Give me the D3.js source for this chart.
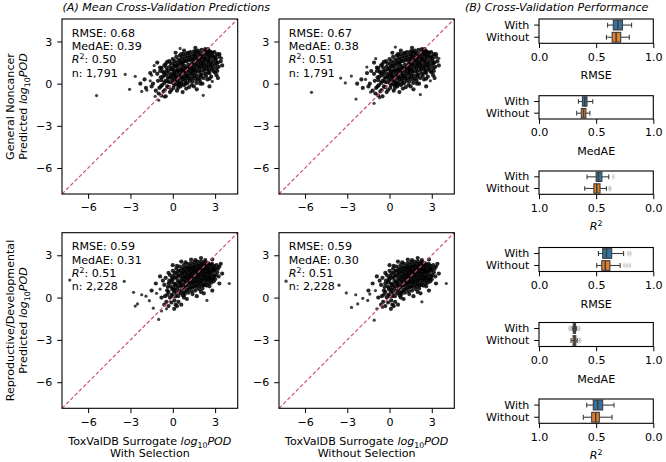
<!DOCTYPE html>
<html><head><meta charset="utf-8">
<script src="https://cdn.jsdelivr.net/npm/d3@7"></script>
<style>
body{margin:0;background:#fff}
svg{display:block}
text{font-family:"DejaVu Sans",sans-serif;font-size:11.1px;fill:#000}
</style>
</head><body>
<svg id="c" width="666" height="462"></svg>
<script>
// ---------------- DATA ----------------
const scatterTicks = [-6, -3, 0, 3];
const rowLabels = ["General Noncancer", "Reproductive/Developmental"];
const colLabels = ["With Selection", "Without Selection"];
const groups = ["With", "Without"];
const metrics = ["RMSE", "MedAE", "R2"];

// dense core cloud, general noncancer
const coreGeneral = [
[-1.05,0.2],[-0.95,-0.3],[-1.1,0.7],[-0.9,0.9],[-1.0,-0.7],[-0.85,0.45],
[-0.8,1.1],[-0.7,0.5],[-0.75,-0.1],[-0.65,-0.55],[-0.8,0.25],[-0.7,0.85],[-0.6,1.3],
[-0.5,1.4],[-0.45,0.9],[-0.55,0.6],[-0.5,0.2],[-0.4,-0.2],[-0.55,-0.45],[-0.45,1.15],[-0.35,0.4],
[-0.25,1.6],[-0.2,1.2],[-0.3,0.95],[-0.15,0.7],[-0.25,0.45],[-0.2,0.1],[-0.3,-0.25],[-0.1,-0.45],[-0.15,1.45],[-0.05,0.3],
[0.0,1.75],[0.05,1.4],[-0.02,1.1],[0.08,0.85],[0.0,0.6],[0.1,0.35],[0.02,0.05],[0.05,-0.3],[0.12,1.6],[0.15,0.95],[0.1,-0.1],[0.18,0.55],
[0.25,1.9],[0.3,1.5],[0.22,1.25],[0.35,1.05],[0.28,0.8],[0.2,0.5],[0.32,0.25],[0.27,-0.05],[0.38,-0.3],[0.4,1.7],[0.45,0.65],[0.42,0.1],
[0.5,2.0],[0.55,1.65],[0.48,1.4],[0.6,1.15],[0.52,0.9],[0.58,0.6],[0.5,0.35],[0.62,0.1],[0.55,-0.2],[0.65,1.85],[0.68,0.8],[0.7,1.35],[0.45,0.0],
[0.75,2.1],[0.8,1.75],[0.72,1.5],[0.85,1.25],[0.78,1.0],[0.82,0.7],[0.75,0.45],[0.88,0.2],[0.8,-0.1],[0.9,1.95],[0.92,0.95],[0.95,0.55],[0.7,0.3],
[1.0,2.15],[1.05,1.85],[0.98,1.6],[1.1,1.35],[1.02,1.1],[1.08,0.85],[1.0,0.6],[1.12,0.35],[1.05,0.05],[1.15,-0.25],[1.18,2.0],[1.2,1.2],[1.22,0.7],
[1.25,2.25],[1.3,1.9],[1.28,1.65],[1.35,1.4],[1.27,1.15],[1.32,0.9],[1.38,0.65],[1.3,0.4],[1.4,0.15],[1.45,2.1],[1.48,1.5],[1.42,1.0],[1.35,-0.1],
[1.5,2.3],[1.55,2.0],[1.52,1.75],[1.6,1.55],[1.58,1.3],[1.5,1.05],[1.62,0.8],[1.55,0.55],[1.65,0.3],[1.7,2.15],[1.72,1.15],[1.68,0.05],[1.75,1.65],
[1.8,2.35],[1.85,2.05],[1.78,1.85],[1.88,1.6],[1.82,1.35],[1.9,1.1],[1.85,0.85],[1.95,0.6],[1.8,0.35],[1.98,1.9],[2.0,1.45],[1.92,0.2],
[2.05,2.4],[2.1,2.1],[2.02,1.9],[2.15,1.65],[2.08,1.4],[2.12,1.15],[2.2,0.9],[2.05,0.65],[2.18,0.4],[2.25,2.2],[2.28,1.75],[2.22,1.3],[2.1,0.0],
[2.35,2.35],[2.4,2.05],[2.32,1.8],[2.45,1.55],[2.38,1.3],[2.42,1.05],[2.5,0.8],[2.36,0.55],[2.48,2.25],[2.55,1.9],[2.52,1.2],[2.45,0.3],
[2.6,2.3],[2.65,2.0],[2.62,1.75],[2.7,1.5],[2.68,1.25],[2.75,1.0],[2.6,0.75],[2.72,0.5],[2.8,2.2],[2.85,1.85],[2.78,1.35],[2.9,0.9],
[2.95,2.25],[3.0,1.95],[3.05,1.65],[3.0,1.35],[3.1,1.1],[2.98,0.8],[3.15,2.1],[3.2,1.5],[3.1,0.6],[3.3,1.9],[3.25,1.2],
[-0.6,0.05],[-0.85,-0.2],[-0.38,0.7],[-0.62,0.75],[-0.1,1.0],[-0.12,0.5],[-0.35,0.15],[0.12,1.25],[0.1,0.7],[0.15,0.15],
[0.35,1.3],[0.38,0.9],[0.35,0.45],[0.4,-0.1],[0.6,1.5],[0.62,1.0],[0.65,0.45],[0.6,-0.05],[0.85,1.6],[0.9,1.1],
[0.85,0.85],[0.9,0.35],[0.9,0.0],[1.15,1.7],[1.15,1.0],[1.12,0.5],[1.2,0.2],[1.4,1.75],[1.4,1.25],[1.42,0.8],
[1.45,0.4],[1.6,1.9],[1.65,1.4],[1.65,0.95],[1.7,0.55],[1.9,2.2],[1.95,1.7],[1.95,1.25],[1.98,0.9],[1.98,0.45],
[2.2,1.95],[2.22,1.5],[2.25,1.05],[2.3,0.7],[2.5,2.1],[2.5,1.65],[2.55,1.4],[2.58,0.95],[2.8,2.0],[2.85,1.6],
[2.85,1.15],[3.05,1.8],[3.1,1.45],[3.15,0.9],[2.7,2.25],[2.3,2.45],[1.65,2.3],[1.1,2.2],[0.6,2.1],[-0.4,1.55],
[-0.9,1.15],[3.4,1.6],[2.6,0.35],[1.95,0.0],[1.5,-0.2],[0.95,-0.35],[0.3,-0.5],[-0.2,-0.6],[-0.8,-0.85],
[-2.0,0.3],[-1.5,-0.2],[-1.3,0.9],[-1.6,0.75],[-1.2,-0.5],[0.2,2.2],[0.8,2.35],[1.6,2.55],[2.5,2.45],[3.3,2.1],
[3.5,1.3],[3.2,0.4],[2.6,-0.2],[1.7,-0.4],[0.7,-0.6],[-0.5,-0.9],[-1.4,0.0],[-1.9,-0.3],[-2.3,0.0],[-1.1,1.5]
];
// sparse points, general noncancer
const outGeneralWith = [
[-5.4,-0.85],[-3.37,0.66],[-2.66,0.52],[-3.06,-0.4],[-1.32,1.29],[-1.84,-0.47],[-2.2,-0.55],
[2.16,-0.83],[2.8,0.16],[0.52,2.51],[3.46,1.81],[-1.5,0.6],[-1.0,-1.18],[-1.6,0.2],[-1.25,-0.9],[-0.6,-0.95]
];
const outGeneralWithout = [
[-5.54,-0.62],[-3.47,0.4],[-3.14,0.05],[-2.71,0.54],[-2.38,-1.1],[-1.61,1.18],[-0.98,1.78],
[0.41,2.6],[2.19,-0.78],[2.9,0.2],[3.5,1.8],[-1.1,-1.4],[-1.7,0.3],[-1.35,-0.6],[-0.7,-1.0]
];

// dense core cloud, reproductive/developmental
const coreRepro = [
[-0.5,1.4],[-0.6,0.9],[-0.4,0.5],[-0.55,0.1],[-0.45,-0.3],[-0.7,1.2],[-0.3,1.0],
[-0.2,1.6],[-0.25,1.2],[-0.15,0.8],[-0.3,0.4],[-0.2,0.0],[-0.1,-0.35],[-0.05,1.4],
[0.0,1.9],[0.05,1.55],[-0.02,1.25],[0.1,1.0],[0.02,0.7],[0.08,0.4],[0.0,0.1],[0.12,-0.2],[0.15,1.75],[0.18,0.85],[0.2,-0.5],
[0.25,2.05],[0.3,1.75],[0.28,1.45],[0.35,1.2],[0.22,0.95],[0.32,0.65],[0.27,0.35],[0.38,0.1],[0.42,1.9],[0.45,1.05],[0.4,-0.3],
[0.5,2.2],[0.55,1.9],[0.52,1.6],[0.6,1.35],[0.5,1.1],[0.58,0.85],[0.62,0.55],[0.55,0.3],[0.68,2.05],[0.7,1.5],[0.65,0.95],[0.72,0.15],
[0.78,2.3],[0.8,2.0],[0.75,1.75],[0.85,1.5],[0.82,1.25],[0.88,1.0],[0.8,0.75],[0.9,0.45],[0.95,2.15],[0.98,1.65],[0.92,1.15],[0.85,0.25],
[1.02,2.4],[1.05,2.1],[1.0,1.85],[1.1,1.6],[1.08,1.35],[1.12,1.1],[1.05,0.85],[1.15,0.6],[1.2,2.25],[1.22,1.75],[1.18,1.25],[1.1,0.35],
[1.28,2.45],[1.3,2.15],[1.25,1.9],[1.35,1.7],[1.32,1.45],[1.38,1.2],[1.3,0.95],[1.4,0.7],[1.45,2.3],[1.48,1.85],[1.42,1.35],[1.35,0.45],
[1.52,2.5],[1.55,2.2],[1.5,1.95],[1.6,1.75],[1.58,1.5],[1.62,1.25],[1.55,1.0],[1.65,0.75],[1.7,2.35],[1.72,1.9],[1.68,1.4],[1.6,0.5],
[1.78,2.55],[1.8,2.25],[1.76,2.0],[1.85,1.8],[1.82,1.55],[1.88,1.3],[1.8,1.05],[1.9,0.8],[1.95,2.4],[1.98,1.95],[1.92,1.45],[1.85,0.6],
[2.02,2.55],[2.05,2.3],[2.0,2.05],[2.1,1.85],[2.08,1.6],[2.12,1.35],[2.05,1.1],[2.15,0.85],[2.2,2.4],[2.22,2.0],[2.18,1.5],[2.1,0.65],
[2.28,2.5],[2.3,2.25],[2.25,2.0],[2.35,1.8],[2.32,1.55],[2.38,1.3],[2.3,1.05],[2.4,0.85],[2.45,2.35],[2.48,1.95],[2.42,1.45],
[2.52,2.45],[2.55,2.2],[2.5,1.95],[2.6,1.75],[2.58,1.5],[2.62,1.25],[2.55,1.0],[2.68,2.3],[2.7,1.85],[2.65,1.4],[2.72,1.05],
[2.78,2.4],[2.82,2.1],[2.8,1.85],[2.88,1.6],[2.85,1.35],[2.92,2.25],[2.95,1.9],[2.9,1.15],[3.0,2.05],[3.05,1.6],[3.1,2.3],[3.15,1.8],
[-0.35,0.75],[-0.4,0.2],[-0.1,1.1],[-0.05,0.6],[-0.1,0.2],[0.15,1.4],[0.15,0.55],[0.2,0.1],[0.4,1.55],[0.42,0.8],
[0.45,0.45],[0.65,1.75],[0.68,1.2],[0.7,0.7],[0.75,0.35],[0.9,1.85],[0.95,1.4],[0.95,0.85],[1.0,0.55],[1.15,2.0],
[1.2,1.5],[1.22,1.0],[1.25,0.7],[1.4,2.05],[1.45,1.6],[1.45,1.1],[1.5,0.8],[1.65,2.1],[1.7,1.65],[1.7,1.15],
[1.72,0.9],[1.9,2.15],[1.95,1.7],[1.95,1.2],[1.98,0.95],[2.15,2.2],[2.2,1.75],[2.2,1.25],[2.25,0.9],[2.4,2.1],
[2.45,1.7],[2.45,1.2],[2.65,2.05],[2.7,1.6],[2.75,1.25],[2.9,2.0],[2.95,1.5],[3.0,1.3],[3.2,2.05],[3.25,1.5],
[3.3,2.2],[2.3,2.65],[1.6,2.65],[0.9,2.5],[0.3,2.25],[-0.3,1.75],[2.6,0.8],[2.0,0.4],[1.4,0.25],[0.8,0.0],
[0.3,-0.6],[-0.6,-0.5],
[-1.2,1.0],[-0.9,1.5],[-1.5,0.5],[-0.8,0.0],[0.0,2.3],[0.6,2.55],[1.3,2.7],[2.0,2.8],[2.8,2.7],[3.4,2.4],
[3.5,1.7],[3.3,1.0],[2.8,0.5],[2.2,0.3],[1.7,0.1],[1.0,-0.1],[0.6,-0.5],[0.1,-0.8],[-0.3,-0.6]
];
const outReproWith = [
[-7.3,1.24],[-3.44,1.15],[-2.78,0.37],[-2.2,0.2],[-2.66,-0.6],[-2.5,-0.45],[-1.0,-1.55],[-1.38,-0.75],
[-0.8,-0.95],[-0.45,-0.8],[4.0,1.0],[2.42,-0.2],[-1.15,0.3],[-1.66,-0.22],[-1.9,0.1],[-0.9,0.6]
];
const outReproWithout = [
[-7.35,1.16],[-3.59,0.88],[-3.07,0.33],[-2.4,0.2],[-2.26,-0.45],[-2.7,-0.7],[-1.09,-1.6],[4.03,1.0],
[2.3,-0.3],[-1.55,-0.2],[-1.4,0.25],[-0.9,-0.8],[-0.5,-0.7],[-1.9,-0.05],[-1.0,0.5]
];

const scatterStats = [
  [["0.68","0.39","0.50","1,791"], ["0.67","0.38","0.51","1,791"]],
  [["0.59","0.31","0.51","2,228"], ["0.59","0.30","0.51","2,228"]]
];

// box stats: [whiskerLo, q1, median, q3, whiskerHi], outliers
const boxGeneral = {
  RMSE:  { With: [0.60,0.65,0.69,0.73,0.81], Without: [0.59,0.64,0.675,0.715,0.79] },
  MedAE: { With: [0.345,0.38,0.40,0.42,0.47], Without: [0.33,0.37,0.39,0.41,0.445] },
  R2:    { With: [0.39,0.45,0.48,0.50,0.58], Without: [0.41,0.466,0.495,0.52,0.60] }
};
const fliersGeneral = {
  RMSE:  { With: [], Without: [] },
  MedAE: { With: [], Without: [] },
  R2:    { With: [0.35], Without: [0.385, 0.375] }
};
const boxRepro = {
  RMSE:  { With: [0.52,0.557,0.59,0.636,0.74], Without: [0.505,0.549,0.58,0.62,0.71] },
  MedAE: { With: [0.29,0.30,0.31,0.32,0.33], Without: [0.28,0.298,0.31,0.322,0.335] },
  R2:    { With: [0.344,0.443,0.486,0.525,0.583], Without: [0.361,0.472,0.504,0.539,0.612] }
};
const fliersRepro = {
  RMSE:  { With: [0.78, 0.80], Without: [0.745, 0.77, 0.795] },
  MedAE: { With: [0.265, 0.275, 0.345, 0.355], Without: [0.35, 0.36] },
  R2:    { With: [], Without: [] }
};
const boxTicks = [0, 0.5, 1];

// ---------------- DRAWING ----------------
const svg = d3.select("#c");
const groupColor = { With: "#3274a1", Without: "#e1812c" };
const lineCol = "#3d3d3d";
const TL = 4.8, PAD = 4.8;
const minus = d => d < 0 ? "\u2212" + Math.abs(d) : String(d);

function rich(t, parts) {
  let shift = 0;
  parts.forEach(p => {
    const s = t.append("tspan").text(p.t);
    if (p.i) s.attr("font-style", "italic");
    const target = p.sub ? 2.8 : (p.sup ? -4.2 : 0);
    if (target !== shift) { s.attr("dy", target - shift); shift = target; }
    if (p.sub || p.sup) s.style("font-size", "7.8px");
  });
}
const logPOD = [{t:"log", i:true}, {t:"10", sub:true}, {t:"POD", i:true}];

// titles
svg.append("text").attr("x", 62.5).attr("y", 11.3).attr("font-style", "italic")
  .text("(A) Mean Cross-Validation Predictions");
svg.append("text").attr("x", 465).attr("y", 11.3).attr("font-style", "italic")
  .text("(B) Cross-Validation Performance");

const panels = [
  { r:0, c:0, x0:62,  x1:237.7, y0:19,    y1:194,   core: coreGeneral, out: outGeneralWith },
  { r:0, c:1, x0:279, x1:454.3, y0:19,    y1:194,   core: coreGeneral, out: outGeneralWithout },
  { r:1, c:0, x0:62,  x1:237.7, y0:232.7, y1:408.3, core: coreRepro,   out: outReproWith },
  { r:1, c:1, x0:279, x1:454.3, y0:232.7, y1:408.3, core: coreRepro,   out: outReproWithout }
];
const dom = [-7.85, 4.6];

panels.forEach(p => {
  const x = d3.scaleLinear().domain(dom).range([p.x0, p.x1]);
  const y = d3.scaleLinear().domain(dom).range([p.y1, p.y0]);
  const g = svg.append("g");
  g.append("g").selectAll("circle").data(p.core).join("circle")
    .attr("cx", d => x(d[0])).attr("cy", d => y(d[1])).attr("r", 2.1)
    .attr("fill", "#000").attr("fill-opacity", 0.85);
  g.append("g").selectAll("circle").data(p.out).join("circle")
    .attr("cx", d => x(d[0])).attr("cy", d => y(d[1])).attr("r", 1.6)
    .attr("fill", "#000").attr("fill-opacity", 0.75);
  g.append("line")
    .attr("x1", x(dom[0])).attr("y1", y(dom[0])).attr("x2", x(dom[1])).attr("y2", y(dom[1]))
    .attr("stroke", "#d2506a").attr("stroke-width", 1.2).attr("stroke-dasharray", "3.8,2.2");
  const ax = g.append("g").attr("transform", `translate(0,${p.y1})`)
    .call(d3.axisBottom(x).tickValues(scatterTicks).tickSize(TL).tickPadding(PAD).tickFormat(minus));
  const ay = g.append("g").attr("transform", `translate(${p.x0},0)`)
    .call(d3.axisLeft(y).tickValues(scatterTicks).tickSize(TL).tickPadding(PAD).tickFormat(minus));
  [ax, ay].forEach(a => {
    a.select(".domain").remove();
    a.selectAll("line").attr("stroke", "#000").attr("stroke-width", 1);
    a.selectAll("text").style("font-size", "11.1px").attr("font-family", null);
  });
  g.append("rect").attr("x", p.x0).attr("y", p.y0).attr("width", p.x1 - p.x0).attr("height", p.y1 - p.y0)
    .attr("fill", "none").attr("stroke", "#000").attr("stroke-width", 1.1);

  // stats annotation
  const st = scatterStats[p.r][p.c];
  const tx = p.x0 + 9.7, ty = p.y0 + 17.6, lh = 13.3;
  g.append("text").attr("x", tx).attr("y", ty).text("RMSE: " + st[0]);
  g.append("text").attr("x", tx).attr("y", ty + lh).text("MedAE: " + st[1]);
  rich(g.append("text").attr("x", tx).attr("y", ty + 2*lh),
       [{t:"R", i:true}, {t:"2", sup:true}, {t:": " + st[2]}]);
  g.append("text").attr("x", tx).attr("y", ty + 3*lh).text("n: " + st[3]);

  if (p.c === 0) {
    const cy = (p.y0 + p.y1) / 2;
    svg.append("text").attr("transform", `translate(14,${cy}) rotate(-90)`).attr("text-anchor", "middle")
      .text(rowLabels[p.r]);
    rich(svg.append("text").attr("transform", `translate(27,${cy}) rotate(-90)`).attr("text-anchor", "middle"),
      [{t:"Predicted "}].concat(logPOD));
  }
  if (p.r === 1) {
    const cx = (p.x0 + p.x1) / 2;
    rich(svg.append("text").attr("x", cx).attr("y", p.y1 + 36.4).attr("text-anchor", "middle"),
      [{t:"ToxValDB Surrogate "}].concat(logPOD));
    svg.append("text").attr("x", cx).attr("y", p.y1 + 48.4).attr("text-anchor", "middle")
      .text(colLabels[p.c]);
  }
});

// box panels
const bx0 = 539, bx1 = 653.3;
const boxPanels = [
  { y0:19,    y1:43.3,  m:"RMSE",  st: boxGeneral, fl: fliersGeneral },
  { y0:95.7,  y1:119,   m:"MedAE", st: boxGeneral, fl: fliersGeneral },
  { y0:171,   y1:194.3, m:"R2",    st: boxGeneral, fl: fliersGeneral },
  { y0:247.5, y1:271.5, m:"RMSE",  st: boxRepro,   fl: fliersRepro },
  { y0:322.5, y1:346.5, m:"MedAE", st: boxRepro,   fl: fliersRepro },
  { y0:399,   y1:423.3, m:"R2",    st: boxRepro,   fl: fliersRepro }
];
boxPanels.forEach(bp => {
  const rev = bp.m === "R2";
  const x = d3.scaleLinear().domain(rev ? [1, 0] : [0, 1]).range([bx0, bx1]);
  const y = d3.scaleBand().domain(groups).range([bp.y0, bp.y1]);
  const g = svg.append("g");
  const bh = y.bandwidth() * 0.8;
  groups.forEach(gr => {
    const s = bp.st[bp.m][gr];
    const cy = y(gr) + y.bandwidth() / 2;
    const lo = Math.min(x(s[0]), x(s[4])), hi = Math.max(x(s[0]), x(s[4]));
    const qa = Math.min(x(s[1]), x(s[3])), qb = Math.max(x(s[1]), x(s[3]));
    g.append("line").attr("x1", lo).attr("x2", qa).attr("y1", cy).attr("y2", cy).attr("stroke", lineCol).attr("stroke-width", 1.1);
    g.append("line").attr("x1", qb).attr("x2", hi).attr("y1", cy).attr("y2", cy).attr("stroke", lineCol).attr("stroke-width", 1.1);
    [lo, hi].forEach(v => g.append("line").attr("x1", v).attr("x2", v).attr("y1", cy - bh/4).attr("y2", cy + bh/4)
      .attr("stroke", lineCol).attr("stroke-width", 1.1));
    g.append("rect").attr("x", qa).attr("y", cy - bh/2).attr("width", qb - qa).attr("height", bh)
      .attr("fill", groupColor[gr]).attr("stroke", lineCol).attr("stroke-width", 1.1);
    g.append("line").attr("x1", x(s[2])).attr("x2", x(s[2])).attr("y1", cy - bh/2).attr("y2", cy + bh/2)
      .attr("stroke", lineCol).attr("stroke-width", 1.5);
    g.selectAll(null).data(bp.fl[bp.m][gr]).join("path")
      .attr("d", d3.symbol(d3.symbolDiamond, 14))
      .attr("transform", d => `translate(${x(d)},${cy}) scale(0.75,1)`)
      .attr("fill", "#c8c8c8").attr("fill-opacity", 0.8);
  });
  const ax = g.append("g").attr("transform", `translate(0,${bp.y1})`)
    .call(d3.axisBottom(x).tickValues(boxTicks).tickSize(TL).tickPadding(PAD).tickFormat(d3.format(".1f")));
  const ay = g.append("g").attr("transform", `translate(${bx0},0)`)
    .call(d3.axisLeft(y).tickSize(TL).tickPadding(PAD));
  [ax, ay].forEach(a => {
    a.select(".domain").remove();
    a.selectAll("line").attr("stroke", "#000").attr("stroke-width", 1);
    a.selectAll("text").style("font-size", "11.1px").attr("font-family", null);
  });
  g.append("rect").attr("x", bx0).attr("y", bp.y0).attr("width", bx1 - bx0).attr("height", bp.y1 - bp.y0)
    .attr("fill", "none").attr("stroke", "#000").attr("stroke-width", 1.1);
  const lt = g.append("text").attr("x", (bx0 + bx1) / 2).attr("y", bp.y1 + 36).attr("text-anchor", "middle");
  if (rev) rich(lt, [{t:"R", i:true}, {t:"2", sup:true}]);
  else lt.text(bp.m);
});
</script>
</body></html>
